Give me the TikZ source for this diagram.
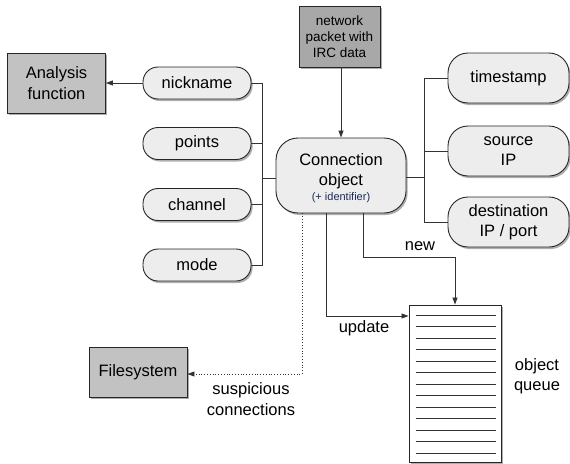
\documentclass[tikz,border=0pt]{standalone}
\usepackage{fontspec}
\setmainfont{Liberation Sans}
\usetikzlibrary{arrows.meta,shadows}
\definecolor{pillfill}{HTML}{EDEDED}
\definecolor{boxfill}{HTML}{C2C2C2}
\definecolor{darkfill}{HTML}{A8A8A8}
\definecolor{edgecol}{HTML}{333333}
\definecolor{idcol}{HTML}{1A2A5A}
\tikzset{
  shad/.style={drop shadow={shadow xshift=1.6pt,shadow yshift=-2pt,opacity=0.45,fill=black!70}},
  bigfont/.style={font=\fontsize{16.5}{20.5}\selectfont},
  pill/.style={draw=black!85,line width=0.9pt,fill=pillfill,shad,inner sep=0pt,
     rounded corners=15pt,minimum width=108pt,minimum height=32pt,bigfont,align=center},
  bigpill/.style={pill,rounded corners=20pt,minimum width=121pt,minimum height=50pt},
  greybox/.style={draw=black!85,line width=0.9pt,fill=boxfill,shad,inner sep=0pt,bigfont,align=center},
  conn/.style={draw=edgecol,line width=0.8pt},
  arr/.style={conn,-{Triangle[length=7pt,width=5pt]}},
  lbl/.style={bigfont,align=center,inner sep=0pt},
}
\begin{document}
\begin{tikzpicture}[x=1pt,y=-1pt]
\useasboundingbox (0,0) rectangle (570,463);
% nodes
\node[greybox,minimum width=98pt,minimum height=60pt] (ana) at (56.5,83) {Analysis\\function};
\node[greybox,fill=darkfill,minimum width=81pt,minimum height=61pt,
      font=\fontsize{13.5}{16}\selectfont] (pkt) at (339.5,36.5) {network\\packet with\\IRC data};
\node[pill] (nick) at (197,83) {nickname};
\node[pill] (pts) at (197,143.5) {points};
\node[pill] (chan) at (197,204.5) {channel};
\node[pill] (mode) at (197,265) {mode};
\node[pill,rounded corners=22pt,minimum width=130pt,minimum height=75pt] (cobj) at (341,175.5) {};
\node[lbl] (ctext) at (341,171) {Connection\\object};
\node[inner sep=0pt,font=\fontsize{11}{13}\selectfont,text=idcol] (cid) at (341,198) {(+ identifier)};
\node[bigpill] (ts) at (508.5,78) {timestamp};
\node[bigpill] (src) at (508.5,151) {source\\IP};
\node[bigpill] (dst) at (508.5,222) {destination\\IP / port};
\node[greybox,minimum width=98pt,minimum height=50pt] (fs) at (138,372) {Filesystem};
\node[draw=black!85,line width=0.9pt,fill=white,shad,minimum width=92pt,minimum height=157pt,inner sep=0pt] (queue) at (455,383.5) {};
\foreach \i in {0,...,12}{
  \draw[black!80,line width=0.7pt] (416,315+11.5*\i) -- (496,315+11.5*\i);
}
% labels
\node[lbl] (lnew) at (420,246) {new};
\node[lbl] (lupd) at (364,328) {update};
\node[lbl] (lsus) at (251,399) {suspicious\\connections};
\node[lbl] (lq) at (537,376) {object\\queue};
% coordinates
\coordinate (lb) at (262,178);
\coordinate (rb) at (424,177);
% left bracket
\draw[conn] (nick.east) -- (nick.east -| lb) -- (mode.east -| lb) -- (mode.east);
\draw[conn] (pts.east) -- (pts.east -| lb);
\draw[conn] (chan.east) -- (chan.east -| lb);
\draw[conn] (cobj.west |- lb) -- (lb);
% right bracket
\draw[conn] (ts.west) -- (ts.west -| rb) -- (dst.west -| rb) -- (dst.west);
\draw[conn] (src.west) -- (src.west -| rb);
\draw[conn] (cobj.east |- rb) -- (rb);
% arrows
\draw[arr] (nick.west) -- (ana.east);
\draw[arr] (pkt.south -| cobj.north) -- (cobj.north);
\coordinate (dotc) at (302,374);
\draw[arr,dotted,line width=0.9pt] (cobj.south -| dotc) -- (dotc) -- (fs.east |- dotc);
\coordinate (updc) at (326,316);
\draw[arr] (cobj.south -| updc) -- (updc) -- (queue.west |- updc);
\coordinate (newa) at (363,257);
\coordinate (newb) at (455,257);
\draw[arr] (cobj.south -| newa) -- (newa) -- (newb) -- (queue.north);
\end{tikzpicture}
\end{document}
